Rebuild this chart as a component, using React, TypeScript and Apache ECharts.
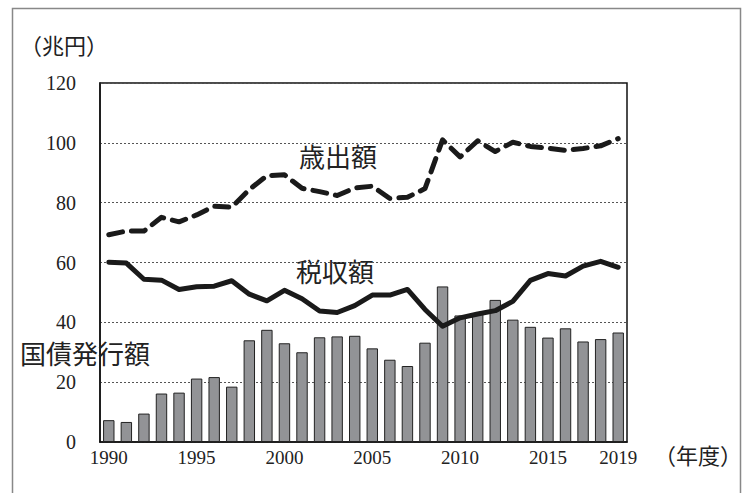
import React, { useEffect, useRef } from "react";
import * as echarts from "echarts";

const years = [
  "1990","1991","1992","1993","1994","1995","1996","1997","1998","1999",
  "2000","2001","2002","2003","2004","2005","2006","2007","2008","2009",
  "2010","2011","2012","2013","2014","2015","2016","2017","2018","2019",
];
const expenditure = [
  69.3, 70.5, 70.5, 75.1, 73.6, 75.9, 78.8, 78.5, 84.4, 89.0,
  89.3, 84.8, 83.7, 82.4, 84.9, 85.5, 81.4, 81.8, 84.7, 101.0,
  95.3, 100.7, 97.1, 100.2, 98.8, 98.2, 97.5, 98.1, 99.0, 101.4,
];
const taxRevenue = [
  60.1, 59.8, 54.4, 54.1, 51.0, 51.9, 52.1, 53.9, 49.4, 47.2,
  50.7, 47.9, 43.8, 43.3, 45.6, 49.1, 49.1, 51.0, 44.3, 38.7,
  41.5, 42.8, 43.9, 47.0, 54.0, 56.3, 55.5, 58.8, 60.4, 58.4,
];
const bondIssuance = [
  7.3, 6.7, 9.5, 16.2, 16.5, 21.2, 21.7, 18.5, 34.0, 37.5,
  33.0, 30.0, 35.0, 35.3, 35.5, 31.3, 27.5, 25.4, 33.2, 52.0,
  42.3, 42.8, 47.5, 40.9, 38.5, 34.9, 38.0, 33.6, 34.4, 36.6,
];

const FONT = '"Liberation Serif", "DejaVu Serif", "Noto Sans CJK JP", serif';

export default function App() {
  const ref = useRef<HTMLDivElement>(null);
  useEffect(() => {
    document.body.style.margin = "0";
    const chart = echarts.init(ref.current!, null, { renderer: "svg" });
    const showIdx = (i: number) => i % 5 === 0 || i === years.length - 1;
    chart.setOption({
      animation: false,
      backgroundColor: "#ffffff",
      grid: {
        left: 100, right: 115, top: 83, bottom: 51,
        show: true, borderColor: "#111", borderWidth: 1.5,
      },
      xAxis: {
        type: "category",
        data: years,
        boundaryGap: true,
        axisLine: { lineStyle: { color: "#111", width: 1.5 } },
        axisTick: {
          alignWithLabel: true,
          interval: (i: number) => showIdx(i),
          length: 6,
          lineStyle: { color: "#333" },
        },
        axisLabel: {
          interval: (i: number) => showIdx(i),
          fontFamily: FONT, fontSize: 19, color: "#222", margin: 6,
        },
      },
      yAxis: {
        type: "value",
        min: 0, max: 120, interval: 20,
        axisLine: { show: true, lineStyle: { color: "#111", width: 1.5 } },
        axisTick: { show: false },
        axisLabel: { fontFamily: FONT, fontSize: 20, color: "#222", margin: 24 },
        splitLine: { lineStyle: { color: "#555", type: [2, 2], width: 1 } },
      },
      series: [
        {
          type: "bar",
          data: bondIssuance,
          barWidth: "65%",
          itemStyle: { color: "#929396", borderColor: "#222", borderWidth: 1 },
          z: 2,
        },
        {
          type: "line",
          data: taxRevenue,
          symbol: "none",
          lineStyle: { color: "#1a1a1a", width: 5, cap: "round", join: "round" },
          z: 3,
        },
        {
          type: "line",
          data: expenditure,
          symbol: "none",
          lineStyle: { color: "#1a1a1a", width: 5, type: [14, 9], cap: "round", join: "round" },
          z: 3,
        },
      ],
      graphic: [
        {
          type: "rect",
          shape: { x: 12.5, y: 8.5, width: 728, height: 500 },
          style: { fill: "none", stroke: "#888", lineWidth: 1.5 },
          silent: true,
          z: -10,
        },
        { type: "text", x: 20, y: 35, style: { text: "（兆円）", font: `22px ${FONT}`, fill: "#222" } },
        { type: "text", x: 654, y: 445, style: { text: "（年度）", font: `22px ${FONT}`, fill: "#222" } },
        { type: "text", x: 299, y: 145, style: { text: "歳出額", font: `26px ${FONT}`, fill: "#222" } },
        { type: "text", x: 296, y: 260, style: { text: "税収額", font: `26px ${FONT}`, fill: "#222" } },
        { type: "text", x: 20, y: 342, style: { text: "国債発行額", font: `26px ${FONT}`, fill: "#222" }, z: 10 },
      ],
    });
    return () => chart.dispose();
  }, []);
  return (
    <div
      ref={ref}
      style={{ position: "fixed", left: 0, top: 0, width: 742, height: 493 }}
    />
  );
}
